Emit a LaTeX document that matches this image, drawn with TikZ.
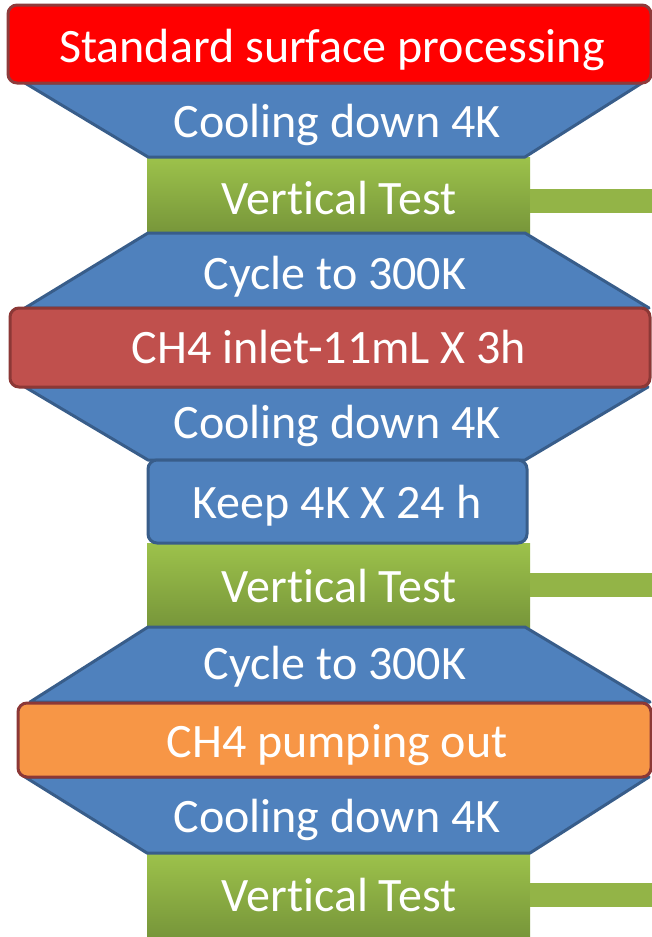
\documentclass[tikz,border=0pt]{standalone}
\usepackage{fontspec}
\setmainfont{Carlito}[Ligatures=NoCommon]
\definecolor{redA}{HTML}{FF0000}
\definecolor{redAline}{HTML}{8E3B3B}
\definecolor{redB}{HTML}{C0504D}
\definecolor{redBline}{HTML}{8C3836}
\definecolor{blueF}{HTML}{4F81BD}
\definecolor{blueL}{HTML}{385D8A}
\definecolor{orangeF}{HTML}{F79646}
\definecolor{greenT}{HTML}{9DC24B}
\definecolor{greenB}{HTML}{77963A}
\definecolor{greenBar}{HTML}{93B447}
\begin{document}
\begin{tikzpicture}[x=1pt,y=-1pt,
  greenbox/.style={rectangle,inner sep=0pt,outer sep=0pt,top color=greenT,bottom color=greenB,draw=none},
  bluepoly/.style={fill=blueF,draw=blueL,line width=3pt,line join=round},
  pbox/.style={rectangle,inner sep=0pt,outer sep=0pt,rounded corners=9pt,line width=3pt},
  bar/.style={draw=greenBar,line width=24pt},
  lbl/.style={anchor=base,text=white,inner sep=0pt,font=\fontsize{48}{52}\selectfont}]
\useasboundingbox (0,0) rectangle (652,937);
\fill[white] (0,0) rectangle (652,937);
% green test boxes and their bars
\node[greenbox,minimum width=383pt,minimum height=76pt] (g1) at (338.5,195) {};
\node[greenbox,minimum width=383pt,minimum height=84pt] (g2) at (338.5,585) {};
\node[greenbox,minimum width=383pt,minimum height=84pt] (g3) at (338.5,895) {};
\coordinate (e1) at (653,200.5);
\coordinate (e2) at (653,585);
\coordinate (e3) at (653,895);
\draw[bar] (g1.east |- e1) -- (e1);
\draw[bar] (g2.east |- e2) -- (e2);
\draw[bar] (g3.east |- e3) -- (e3);
% blue shapes
\draw[bluepoly] (25,83) -- (642,83) -- (525,157) -- (148,157) -- cycle;
\draw[bluepoly] (148,233) -- (525,233) -- (649,308) -- (25,308) -- cycle;
\draw[bluepoly] (25,387) -- (648,387) -- (525,460) -- (148,460) -- cycle;
\draw[bluepoly] (148,627) -- (525,627) -- (650,702) -- (30,702) -- cycle;
\draw[bluepoly] (25,777) -- (649,777) -- (530,853) -- (147,853) -- cycle;
% boxes
\node[pbox,fill=redA,draw=redAline,minimum width=643pt,minimum height=78pt] (r1) at (329.5,44) {};
\node[pbox,fill=redB,draw=redBline,minimum width=640pt,minimum height=79pt] (r2) at (330,347.5) {};
\node[pbox,fill=blueF,draw=blueL,minimum width=379pt,minimum height=83pt] (k) at (337.5,501.5) {};
\node[pbox,fill=orangeF,draw=redBline,minimum width=633pt,minimum height=74pt] (o) at (334.5,740) {};
% labels
\node[lbl] (t1) at (332,62) {Standard surface processing};
\node[lbl] (t2) at (337,137) {Cooling down 4K};
\node[lbl] (t3) at (339,214) {Vertical Test};
\node[lbl] (t4) at (335,289) {Cycle to 300K};
\node[lbl] (t5) at (329,363) {CH4 inlet-11mL X 3h};
\node[lbl] (t6) at (337,438) {Cooling down 4K};
\node[lbl] (t7) at (337,518) {Keep 4K X 24 h};
\node[lbl] (t8) at (339,602) {Vertical Test};
\node[lbl] (t9) at (335,679) {Cycle to 300K};
\node[lbl] (t10) at (337,757) {CH4 pumping out};
\node[lbl] (t11) at (337,832) {Cooling down 4K};
\node[lbl] (t12) at (339,911) {Vertical Test};
\end{tikzpicture}
\end{document}
